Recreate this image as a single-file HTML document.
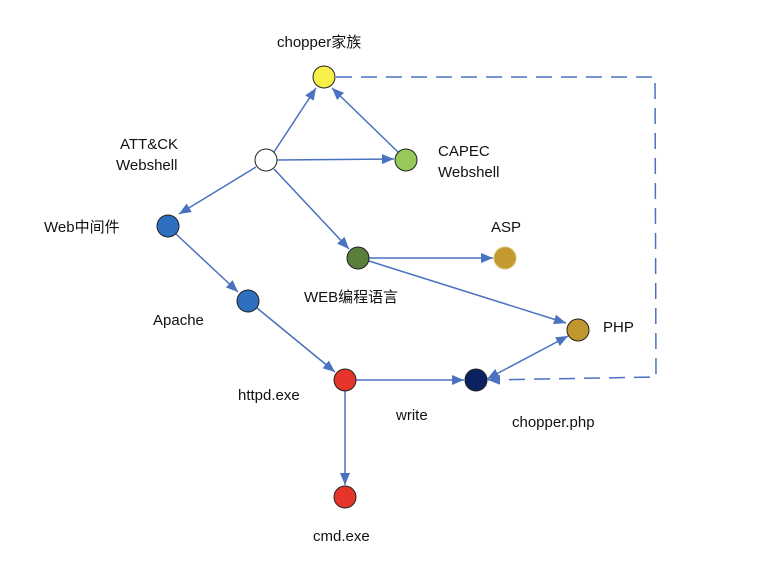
<!DOCTYPE html>
<html><head><meta charset="utf-8"><style>
html,body{margin:0;padding:0;background:#fff}
svg{display:block}
text{font-family:"Liberation Sans","Noto Sans CJK SC",sans-serif;font-size:15px;fill:#111}
</style></head><body>
<svg width="766" height="566" viewBox="0 0 766 566">
<defs>
<marker id="a" viewBox="0 0 12 10" refX="12" refY="5" markerWidth="12" markerHeight="10" markerUnits="userSpaceOnUse" orient="auto-start-reverse">
<path d="M0,0 L12,5 L0,10 z" fill="#4a72c0"/></marker>
</defs>
<g stroke="#4a72c0" stroke-width="1.5" fill="none">
<line x1="274" y1="152" x2="316" y2="88" marker-end="url(#a)"/>
<line x1="398" y1="152" x2="332" y2="88" marker-end="url(#a)"/>
<line x1="277" y1="160" x2="394" y2="159" marker-end="url(#a)"/>
<line x1="256" y1="167" x2="179" y2="214" marker-end="url(#a)"/>
<line x1="274" y1="169" x2="349" y2="249" marker-end="url(#a)"/>
<line x1="369" y1="258" x2="493" y2="258" marker-end="url(#a)"/>
<line x1="369" y1="261" x2="566" y2="323" marker-end="url(#a)"/>
<line x1="176" y1="234" x2="238" y2="292" marker-end="url(#a)"/>
<line x1="257" y1="308" x2="335" y2="372" marker-end="url(#a)"/>
<line x1="356" y1="380" x2="464" y2="380" marker-end="url(#a)"/>
<line x1="345" y1="391" x2="345" y2="485" marker-end="url(#a)"/>
<line x1="487" y1="379" x2="568" y2="336" marker-start="url(#a)" marker-end="url(#a)"/>
<polyline points="336,77 655,77 656,377 488,380" stroke-dasharray="16,9" marker-end="url(#a)"/>
</g>
<g stroke="#222" stroke-width="1">
<circle cx="324" cy="77" r="11" fill="#f8f04a"/>
<circle cx="266" cy="160" r="11" fill="#fff"/>
<circle cx="406" cy="160" r="11" fill="#96c85a"/>
<circle cx="358" cy="258" r="11" fill="#5a7f3c"/>
<circle cx="505" cy="258" r="11" fill="#c49a30" stroke="#d8c070"/>
<circle cx="578" cy="330" r="11" fill="#c0962e"/>
<circle cx="168" cy="226" r="11" fill="#2f6fbf"/>
<circle cx="248" cy="301" r="11" fill="#2f6fbf"/>
<circle cx="345" cy="380" r="11" fill="#e5352a"/>
<circle cx="476" cy="380" r="11" fill="#0c2260"/>
<circle cx="345" cy="497" r="11" fill="#e5352a"/>
</g>
<text x="277" y="47">chopper家族</text>
<text x="120" y="149">ATT&amp;CK</text>
<text x="116" y="170">Webshell</text>
<text x="438" y="156">CAPEC</text>
<text x="438" y="177">Webshell</text>
<text x="44" y="232">Web中间件</text>
<text x="491" y="232">ASP</text>
<text x="304" y="302">WEB编程语言</text>
<text x="153" y="325">Apache</text>
<text x="603" y="332">PHP</text>
<text x="238" y="400">httpd.exe</text>
<text x="396" y="420">write</text>
<text x="512" y="427">chopper.php</text>
<text x="313" y="541">cmd.exe</text>
</svg>
</body></html>
